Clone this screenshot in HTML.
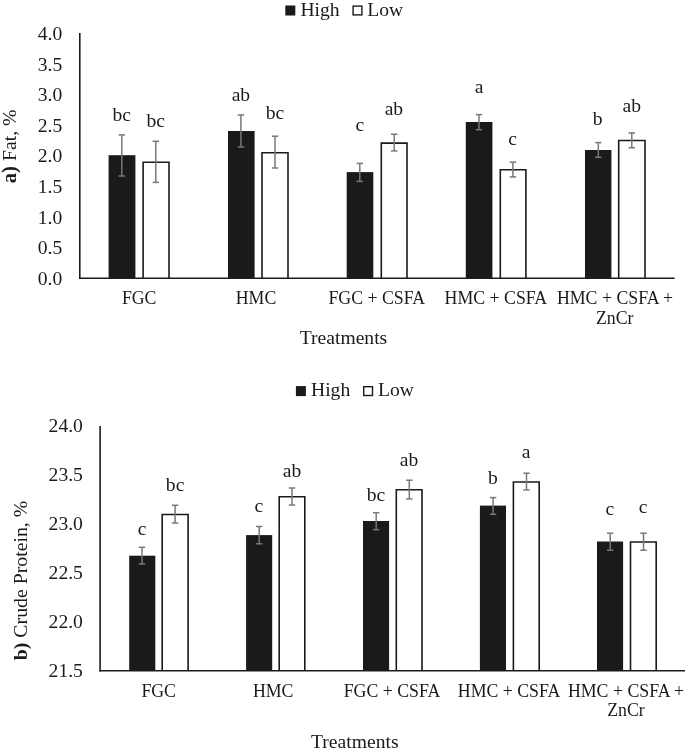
<!DOCTYPE html>
<html><head><meta charset="utf-8"><title>Charts</title>
<style>
html,body{margin:0;padding:0;background:#fff;}
svg{display:block;font-family:"Liberation Serif", "Times New Roman", serif;fill:#1a1a1a;}
</style></head><body>
<svg width="685" height="754" viewBox="0 0 685 754">
<rect width="685" height="754" fill="#fff"/>
<rect x="108.60" y="155.20" width="26.80" height="123.00" fill="#1a1a1a"/>
<path d="M143.10 278.20V162.30H169.00V278.20" fill="#fff" stroke="#1a1a1a" stroke-width="1.6" stroke-linejoin="miter"/>
<rect x="228.00" y="131.00" width="26.60" height="147.20" fill="#1a1a1a"/>
<path d="M262.00 278.20V152.70H288.00V278.20" fill="#fff" stroke="#1a1a1a" stroke-width="1.6" stroke-linejoin="miter"/>
<rect x="346.70" y="172.10" width="26.60" height="106.10" fill="#1a1a1a"/>
<path d="M381.30 278.20V143.10H407.00V278.20" fill="#fff" stroke="#1a1a1a" stroke-width="1.6" stroke-linejoin="miter"/>
<rect x="465.80" y="122.00" width="26.60" height="156.20" fill="#1a1a1a"/>
<path d="M500.30 278.20V169.70H525.90V278.20" fill="#fff" stroke="#1a1a1a" stroke-width="1.6" stroke-linejoin="miter"/>
<rect x="585.00" y="150.00" width="26.40" height="128.20" fill="#1a1a1a"/>
<path d="M618.70 278.20V140.50H645.00V278.20" fill="#fff" stroke="#1a1a1a" stroke-width="1.6" stroke-linejoin="miter"/>
<line x1="79.80" y1="33.00" x2="79.80" y2="279.00" stroke="#1c1c1c" stroke-width="1.6"/>
<line x1="79.00" y1="278.20" x2="674.60" y2="278.20" stroke="#1c1c1c" stroke-width="1.6"/>
<line x1="121.80" y1="134.90" x2="121.80" y2="176.00" stroke="#787878" stroke-width="1.5"/>
<line x1="118.60" y1="134.90" x2="125.00" y2="134.90" stroke="#787878" stroke-width="1.5"/>
<line x1="118.60" y1="176.00" x2="125.00" y2="176.00" stroke="#787878" stroke-width="1.5"/>
<line x1="155.80" y1="141.30" x2="155.80" y2="182.40" stroke="#787878" stroke-width="1.5"/>
<line x1="152.60" y1="141.30" x2="159.00" y2="141.30" stroke="#787878" stroke-width="1.5"/>
<line x1="152.60" y1="182.40" x2="159.00" y2="182.40" stroke="#787878" stroke-width="1.5"/>
<line x1="240.90" y1="115.00" x2="240.90" y2="147.00" stroke="#787878" stroke-width="1.5"/>
<line x1="237.70" y1="115.00" x2="244.10" y2="115.00" stroke="#787878" stroke-width="1.5"/>
<line x1="237.70" y1="147.00" x2="244.10" y2="147.00" stroke="#787878" stroke-width="1.5"/>
<line x1="275.00" y1="136.20" x2="275.00" y2="168.00" stroke="#787878" stroke-width="1.5"/>
<line x1="271.80" y1="136.20" x2="278.20" y2="136.20" stroke="#787878" stroke-width="1.5"/>
<line x1="271.80" y1="168.00" x2="278.20" y2="168.00" stroke="#787878" stroke-width="1.5"/>
<line x1="359.80" y1="163.40" x2="359.80" y2="181.40" stroke="#787878" stroke-width="1.5"/>
<line x1="356.60" y1="163.40" x2="363.00" y2="163.40" stroke="#787878" stroke-width="1.5"/>
<line x1="356.60" y1="181.40" x2="363.00" y2="181.40" stroke="#787878" stroke-width="1.5"/>
<line x1="394.20" y1="134.20" x2="394.20" y2="150.90" stroke="#787878" stroke-width="1.5"/>
<line x1="391.00" y1="134.20" x2="397.40" y2="134.20" stroke="#787878" stroke-width="1.5"/>
<line x1="391.00" y1="150.90" x2="397.40" y2="150.90" stroke="#787878" stroke-width="1.5"/>
<line x1="479.00" y1="114.60" x2="479.00" y2="129.70" stroke="#787878" stroke-width="1.5"/>
<line x1="475.80" y1="114.60" x2="482.20" y2="114.60" stroke="#787878" stroke-width="1.5"/>
<line x1="475.80" y1="129.70" x2="482.20" y2="129.70" stroke="#787878" stroke-width="1.5"/>
<line x1="512.90" y1="162.20" x2="512.90" y2="176.90" stroke="#787878" stroke-width="1.5"/>
<line x1="509.70" y1="162.20" x2="516.10" y2="162.20" stroke="#787878" stroke-width="1.5"/>
<line x1="509.70" y1="176.90" x2="516.10" y2="176.90" stroke="#787878" stroke-width="1.5"/>
<line x1="598.30" y1="142.60" x2="598.30" y2="157.30" stroke="#787878" stroke-width="1.5"/>
<line x1="595.10" y1="142.60" x2="601.50" y2="142.60" stroke="#787878" stroke-width="1.5"/>
<line x1="595.10" y1="157.30" x2="601.50" y2="157.30" stroke="#787878" stroke-width="1.5"/>
<line x1="631.80" y1="132.90" x2="631.80" y2="147.70" stroke="#787878" stroke-width="1.5"/>
<line x1="628.60" y1="132.90" x2="635.00" y2="132.90" stroke="#787878" stroke-width="1.5"/>
<line x1="628.60" y1="147.70" x2="635.00" y2="147.70" stroke="#787878" stroke-width="1.5"/>
<text x="121.80" y="120.70" font-size="19.6" text-anchor="middle" >bc</text>
<text x="155.80" y="126.50" font-size="19.6" text-anchor="middle" >bc</text>
<text x="240.90" y="100.50" font-size="19.6" text-anchor="middle" >ab</text>
<text x="275.00" y="119.20" font-size="19.6" text-anchor="middle" >bc</text>
<text x="359.80" y="131.00" font-size="19.6" text-anchor="middle" >c</text>
<text x="393.90" y="114.60" font-size="19.6" text-anchor="middle" >ab</text>
<text x="479.00" y="92.50" font-size="19.6" text-anchor="middle" >a</text>
<text x="512.70" y="144.50" font-size="19.6" text-anchor="middle" >c</text>
<text x="597.60" y="125.20" font-size="19.6" text-anchor="middle" >b</text>
<text x="631.70" y="112.40" font-size="19.6" text-anchor="middle" >ab</text>
<text x="62.20" y="285.05" font-size="19.6" text-anchor="end" >0.0</text>
<text x="62.20" y="254.40" font-size="19.6" text-anchor="end" >0.5</text>
<text x="62.20" y="223.75" font-size="19.6" text-anchor="end" >1.0</text>
<text x="62.20" y="193.10" font-size="19.6" text-anchor="end" >1.5</text>
<text x="62.20" y="162.45" font-size="19.6" text-anchor="end" >2.0</text>
<text x="62.20" y="131.80" font-size="19.6" text-anchor="end" >2.5</text>
<text x="62.20" y="101.15" font-size="19.6" text-anchor="end" >3.0</text>
<text x="62.20" y="70.50" font-size="19.6" text-anchor="end" >3.5</text>
<text x="62.20" y="39.85" font-size="19.6" text-anchor="end" >4.0</text>
<text x="139.20" y="304.40" font-size="17.8" text-anchor="middle" >FGC</text>
<text x="256.00" y="304.40" font-size="17.8" text-anchor="middle" >HMC</text>
<text x="376.80" y="304.40" font-size="17.8" text-anchor="middle" >FGC + CSFA</text>
<text x="495.90" y="304.40" font-size="17.8" text-anchor="middle" >HMC + CSFA</text>
<text x="615.00" y="304.40" font-size="17.8" text-anchor="middle" >HMC + CSFA +</text>
<text x="614.70" y="324.20" font-size="17.8" text-anchor="middle" >ZnCr</text>
<text x="343.50" y="343.90" font-size="19.6" text-anchor="middle" >Treatments</text>
<text transform="translate(15.70,146.30) rotate(-90)" font-size="19.8" text-anchor="middle"><tspan font-weight="bold" font-size="20.6">a)</tspan> Fat, %</text>
<rect x="285.30" y="5.50" width="10.0" height="10.0" fill="#1a1a1a"/>
<text x="300.40" y="16.40" font-size="19.6" text-anchor="start" >High</text>
<rect x="353.10" y="6.10" width="8.8" height="8.8" fill="#fff" stroke="#1a1a1a" stroke-width="1.4"/>
<text x="367.30" y="16.40" font-size="19.6" text-anchor="start" >Low</text>
<rect x="129.20" y="555.70" width="26.10" height="115.00" fill="#1a1a1a"/>
<path d="M162.20 670.70V514.50H188.10V670.70" fill="#fff" stroke="#1a1a1a" stroke-width="1.6" stroke-linejoin="miter"/>
<rect x="246.10" y="535.10" width="26.10" height="135.60" fill="#1a1a1a"/>
<path d="M279.20 670.70V496.80H304.80V670.70" fill="#fff" stroke="#1a1a1a" stroke-width="1.6" stroke-linejoin="miter"/>
<rect x="363.00" y="521.00" width="26.10" height="149.70" fill="#1a1a1a"/>
<path d="M396.30 670.70V489.70H422.00V670.70" fill="#fff" stroke="#1a1a1a" stroke-width="1.6" stroke-linejoin="miter"/>
<rect x="479.90" y="505.60" width="26.10" height="165.10" fill="#1a1a1a"/>
<path d="M513.40 670.70V482.00H539.20V670.70" fill="#fff" stroke="#1a1a1a" stroke-width="1.6" stroke-linejoin="miter"/>
<rect x="597.00" y="541.50" width="26.10" height="129.20" fill="#1a1a1a"/>
<path d="M630.50 670.70V542.00H656.20V670.70" fill="#fff" stroke="#1a1a1a" stroke-width="1.6" stroke-linejoin="miter"/>
<line x1="100.10" y1="426.00" x2="100.10" y2="671.50" stroke="#1c1c1c" stroke-width="1.6"/>
<line x1="99.30" y1="670.70" x2="686.00" y2="670.70" stroke="#1c1c1c" stroke-width="1.6"/>
<line x1="142.00" y1="547.30" x2="142.00" y2="564.00" stroke="#787878" stroke-width="1.5"/>
<line x1="138.80" y1="547.30" x2="145.20" y2="547.30" stroke="#787878" stroke-width="1.5"/>
<line x1="138.80" y1="564.00" x2="145.20" y2="564.00" stroke="#787878" stroke-width="1.5"/>
<line x1="175.10" y1="505.30" x2="175.10" y2="523.00" stroke="#787878" stroke-width="1.5"/>
<line x1="171.90" y1="505.30" x2="178.30" y2="505.30" stroke="#787878" stroke-width="1.5"/>
<line x1="171.90" y1="523.00" x2="178.30" y2="523.00" stroke="#787878" stroke-width="1.5"/>
<line x1="259.20" y1="526.50" x2="259.20" y2="543.80" stroke="#787878" stroke-width="1.5"/>
<line x1="256.00" y1="526.50" x2="262.40" y2="526.50" stroke="#787878" stroke-width="1.5"/>
<line x1="256.00" y1="543.80" x2="262.40" y2="543.80" stroke="#787878" stroke-width="1.5"/>
<line x1="292.00" y1="488.00" x2="292.00" y2="505.00" stroke="#787878" stroke-width="1.5"/>
<line x1="288.80" y1="488.00" x2="295.20" y2="488.00" stroke="#787878" stroke-width="1.5"/>
<line x1="288.80" y1="505.00" x2="295.20" y2="505.00" stroke="#787878" stroke-width="1.5"/>
<line x1="376.20" y1="512.70" x2="376.20" y2="529.70" stroke="#787878" stroke-width="1.5"/>
<line x1="373.00" y1="512.70" x2="379.40" y2="512.70" stroke="#787878" stroke-width="1.5"/>
<line x1="373.00" y1="529.70" x2="379.40" y2="529.70" stroke="#787878" stroke-width="1.5"/>
<line x1="409.30" y1="480.20" x2="409.30" y2="498.90" stroke="#787878" stroke-width="1.5"/>
<line x1="406.10" y1="480.20" x2="412.50" y2="480.20" stroke="#787878" stroke-width="1.5"/>
<line x1="406.10" y1="498.90" x2="412.50" y2="498.90" stroke="#787878" stroke-width="1.5"/>
<line x1="493.10" y1="497.60" x2="493.10" y2="514.30" stroke="#787878" stroke-width="1.5"/>
<line x1="489.90" y1="497.60" x2="496.30" y2="497.60" stroke="#787878" stroke-width="1.5"/>
<line x1="489.90" y1="514.30" x2="496.30" y2="514.30" stroke="#787878" stroke-width="1.5"/>
<line x1="526.50" y1="473.20" x2="526.50" y2="489.90" stroke="#787878" stroke-width="1.5"/>
<line x1="523.30" y1="473.20" x2="529.70" y2="473.20" stroke="#787878" stroke-width="1.5"/>
<line x1="523.30" y1="489.90" x2="529.70" y2="489.90" stroke="#787878" stroke-width="1.5"/>
<line x1="610.20" y1="533.20" x2="610.20" y2="550.20" stroke="#787878" stroke-width="1.5"/>
<line x1="607.00" y1="533.20" x2="613.40" y2="533.20" stroke="#787878" stroke-width="1.5"/>
<line x1="607.00" y1="550.20" x2="613.40" y2="550.20" stroke="#787878" stroke-width="1.5"/>
<line x1="643.50" y1="533.20" x2="643.50" y2="550.20" stroke="#787878" stroke-width="1.5"/>
<line x1="640.30" y1="533.20" x2="646.70" y2="533.20" stroke="#787878" stroke-width="1.5"/>
<line x1="640.30" y1="550.20" x2="646.70" y2="550.20" stroke="#787878" stroke-width="1.5"/>
<text x="142.00" y="534.50" font-size="19.6" text-anchor="middle" >c</text>
<text x="175.10" y="491.20" font-size="19.6" text-anchor="middle" >bc</text>
<text x="258.90" y="512.30" font-size="19.6" text-anchor="middle" >c</text>
<text x="292.00" y="476.70" font-size="19.6" text-anchor="middle" >ab</text>
<text x="375.90" y="501.10" font-size="19.6" text-anchor="middle" >bc</text>
<text x="409.00" y="466.40" font-size="19.6" text-anchor="middle" >ab</text>
<text x="492.80" y="484.10" font-size="19.6" text-anchor="middle" >b</text>
<text x="526.00" y="458.40" font-size="19.6" text-anchor="middle" >a</text>
<text x="609.80" y="514.60" font-size="19.6" text-anchor="middle" >c</text>
<text x="643.20" y="513.30" font-size="19.6" text-anchor="middle" >c</text>
<text x="82.90" y="677.00" font-size="19.6" text-anchor="end" >21.5</text>
<text x="82.90" y="628.06" font-size="19.6" text-anchor="end" >22.0</text>
<text x="82.90" y="579.12" font-size="19.6" text-anchor="end" >22.5</text>
<text x="82.90" y="530.18" font-size="19.6" text-anchor="end" >23.0</text>
<text x="82.90" y="481.24" font-size="19.6" text-anchor="end" >23.5</text>
<text x="82.90" y="432.30" font-size="19.6" text-anchor="end" >24.0</text>
<text x="158.70" y="696.90" font-size="17.8" text-anchor="middle" >FGC</text>
<text x="273.20" y="696.90" font-size="17.8" text-anchor="middle" >HMC</text>
<text x="392.00" y="696.90" font-size="17.8" text-anchor="middle" >FGC + CSFA</text>
<text x="509.10" y="696.90" font-size="17.8" text-anchor="middle" >HMC + CSFA</text>
<text x="626.00" y="696.90" font-size="17.8" text-anchor="middle" >HMC + CSFA +</text>
<text x="626.00" y="716.30" font-size="17.8" text-anchor="middle" >ZnCr</text>
<text x="354.80" y="748.00" font-size="19.6" text-anchor="middle" >Treatments</text>
<text transform="translate(27.40,580.50) rotate(-90)" font-size="19.8" text-anchor="middle"><tspan font-weight="bold">b)</tspan> Crude Protein, %</text>
<rect x="295.90" y="386.10" width="10.0" height="10.0" fill="#1a1a1a"/>
<text x="311.00" y="396.40" font-size="19.6" text-anchor="start" >High</text>
<rect x="363.70" y="386.70" width="8.8" height="8.8" fill="#fff" stroke="#1a1a1a" stroke-width="1.4"/>
<text x="378.00" y="396.40" font-size="19.6" text-anchor="start" >Low</text>
</svg>
</body></html>
